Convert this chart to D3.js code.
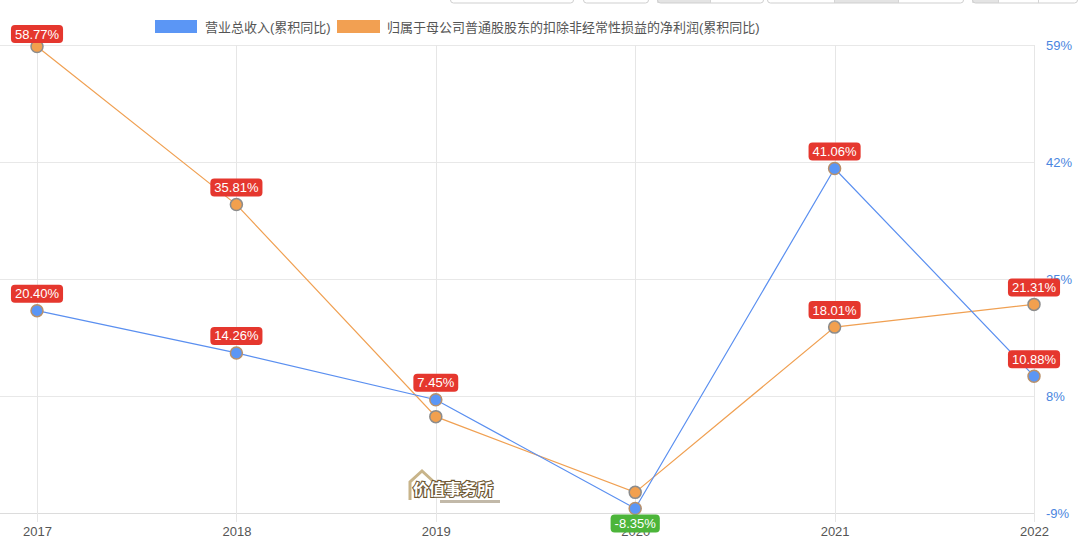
<!DOCTYPE html>
<html><head><meta charset="utf-8">
<script src="https://cdn.jsdelivr.net/npm/d3@7"></script>
<style>
html,body{margin:0;padding:0;background:#fff;}
svg{display:block;font-family:"Liberation Sans","Noto Sans CJK SC",sans-serif;}
</style></head>
<body>
<svg id="c" width="1080" height="551"></svg>
<script>
const years = ["2017","2018","2019","2020","2021","2022"];
const revenue = [20.40, 14.26, 7.45, -8.35, 41.06, 10.88];
const profit = [58.77, 35.81, 5.0, -6.0, 18.01, 21.31];
const revenueShowLabel = [true, true, true, true, true, true];
const profitShowLabel = [true, true, false, false, true, true];
const yTicks = [-9, 8, 25, 42, 59];
const seriesNames = ["营业总收入(累积同比)", "归属于母公司普通股股东的扣除非经常性损益的净利润(累积同比)"];

const svg = d3.select("#c");
const x = d3.scalePoint().domain(years).range([37, 1034]);
const y = d3.scaleLinear().domain([-9, 59]).range([513, 45]);

// top toolbar buttons (partially visible)
const btns = [[450,573],[583,648],[657,763],[767,963],[972,1077]];
const gray = [[657,710],[834,898],[972,998]];
const divs = [710,834,898,998,1038];
const tb = svg.append("g");
gray.forEach(g=>tb.append("rect").attr("x",g[0]).attr("y",-10).attr("width",g[1]-g[0]).attr("height",13).attr("fill","#e4e4e4"));
btns.forEach(b=>tb.append("rect").attr("x",b[0]+0.5).attr("y",-10).attr("width",b[1]-b[0]).attr("height",13).attr("rx",3).attr("fill","none").attr("stroke","#cfcfcf"));
divs.forEach(d=>tb.append("line").attr("x1",d+0.5).attr("x2",d+0.5).attr("y1",-10).attr("y2",3).attr("stroke","#d5d5d5"));

// grid
const grid = svg.append("g");
yTicks.forEach(t=>{
  grid.append("line").attr("x1",0).attr("x2",x("2022")).attr("y1",Math.round(y(t))+0.5).attr("y2",Math.round(y(t))+0.5)
    .attr("stroke", t===-9 ? "#dcdcdc" : "#e8e8e8");
});
years.forEach(yr=>{
  grid.append("line").attr("x1",Math.round(x(yr))+0.5).attr("x2",Math.round(x(yr))+0.5).attr("y1",y(59)).attr("y2",y(-9)+9).attr("stroke","#e6e6e6");
});

// right axis labels
const yAxis = d3.axisRight(y).tickValues(yTicks).tickSize(0).tickPadding(12).tickFormat(d=>d+"%");
const ya = svg.append("g").attr("transform",`translate(${x("2022")},0)`).call(yAxis);
ya.select(".domain").remove();
ya.selectAll("text").attr("fill","#4a86e0").attr("font-size",13).attr("font-family","Liberation Sans, sans-serif");

// x axis labels
const xAxis = d3.axisBottom(x).tickSize(0).tickPadding(14);
const xa = svg.append("g").attr("transform",`translate(0,${y(-9)})`).call(xAxis);
xa.select(".domain").remove();
xa.selectAll("text").attr("fill","#555").attr("font-size",13);

// watermark
const wm = svg.append("g").attr("transform","translate(407,470)");
wm.append("path").attr("d","M3,30 L3,12 L15,1 L27,12").attr("fill","none").attr("stroke","#c8b48a").attr("stroke-width",3);
wm.append("text").attr("x",6).attr("y",25).attr("font-size",16).attr("font-weight","bold")
  .attr("font-family","Noto Sans CJK SC").attr("fill","#fff").attr("stroke","#6b5530").attr("stroke-width",2.2).attr("paint-order","stroke").text("价值事务所");
wm.append("rect").attr("x",33).attr("y",30).attr("width",60).attr("height",3).attr("fill","#9a8a70").attr("opacity",0.6);

// lines
const line = d3.line().x((d,i)=>x(years[i])).y(d=>y(d));
svg.append("path").datum(profit).attr("d",line).attr("fill","none").attr("stroke","#f0a052").attr("stroke-width",1.2);
svg.append("path").datum(revenue).attr("d",line).attr("fill","none").attr("stroke","#5a8ff0").attr("stroke-width",1.2);

// points
function pts(data, fill, stroke){
  svg.append("g").selectAll("circle").data(data).join("circle")
    .attr("cx",(d,i)=>x(years[i])).attr("cy",d=>y(d)).attr("r",6)
    .attr("fill",fill).attr("stroke",stroke).attr("stroke-width",1.5);
}
pts(profit, "#f2a04e", "#8c8c8c");
pts(revenue, "#5b96f5", "#b8906a");

// labels
function labels(data, show){
  data.forEach((v,i)=>{
    if(!show[i]) return;
    const txt = v.toFixed(2)+"%";
    const neg = v < 0;
    const cx = x(years[i]);
    let cy = neg ? y(v)+15 : y(v)-17;
    if(cy < 34) cy = 34;
    const g = svg.append("g");
    const t = g.append("text").attr("x",cx).attr("y",cy).attr("text-anchor","middle").attr("dominant-baseline","central")
      .attr("fill","#fff").attr("font-size",13).text(txt);
    const w = t.node().getComputedTextLength()+8;
    g.insert("rect","text").attr("x",cx-w/2).attr("y",cy-9).attr("width",w).attr("height",18).attr("rx",4)
      .attr("fill", neg ? "#4cb53a" : "#e5372e");
  });
}
labels(profit, profitShowLabel);
labels(revenue, revenueShowLabel);

// legend
const lg = svg.append("g");
lg.append("rect").attr("x",155).attr("y",20).attr("width",42).attr("height",13).attr("fill","#5b96f5");
lg.append("text").attr("x",205).attr("y",27).attr("dominant-baseline","central").attr("font-size",13).attr("fill","#555").text(seriesNames[0]);
lg.append("rect").attr("x",337).attr("y",20).attr("width",43).attr("height",13).attr("fill","#f2a052");
lg.append("text").attr("x",387).attr("y",27).attr("dominant-baseline","central").attr("font-size",13).attr("fill","#555").text(seriesNames[1]);
</script>
</body></html>
